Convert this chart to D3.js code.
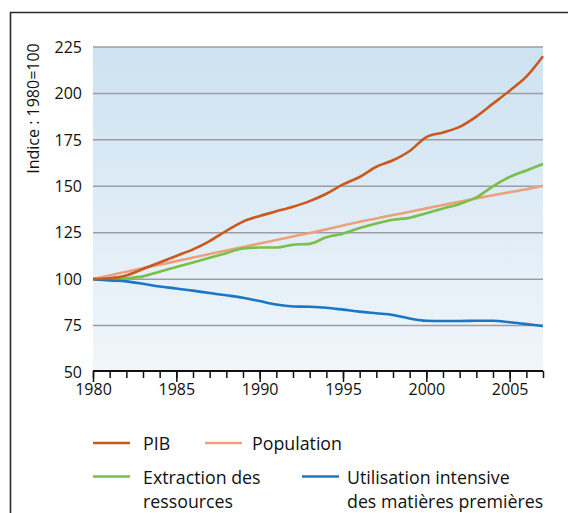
<!DOCTYPE html>
<html>
<head>
<meta charset="utf-8">
<script src="https://cdn.jsdelivr.net/npm/d3@7"></script>
<style>
  html, body { margin: 0; padding: 0; background: #fff; }
  svg { display: block; font-family: "Open Sans", "Noto Sans", sans-serif; }
</style>
</head>
<body>
<svg id="chart" width="568" height="513"></svg>
<script>
const years = d3.range(1980, 2008);
const pib = [100, 100.5, 102, 105.5, 109, 112.5, 116, 120.5, 126, 131, 134, 136.5, 139, 142, 146, 151, 155, 160.5, 164, 169, 176.5, 179, 182, 187.5, 194.5, 201.5, 209, 220];
const population = [100, 102, 104, 106, 107.8, 109.7, 111.6, 113.5, 115.4, 117.3, 119.2, 121.1, 123, 124.9, 126.8, 128.9, 130.9, 132.7, 134.5, 136.3, 138.1, 139.9, 141.7, 143.5, 145.2, 146.8, 148.4, 150.3];
const extraction = [100, 100, 100.5, 101.5, 104, 106.5, 109, 111.5, 114, 116.5, 117, 117, 118.5, 119, 122.5, 124.5, 127.5, 130, 132, 133, 135.5, 138, 140.5, 144, 150, 155, 158.5, 162];
const utilisation = [100, 99.3, 98.8, 97.5, 96, 95, 93.8, 92.5, 91.3, 90, 88.2, 86.3, 85.3, 85.1, 84.6, 83.6, 82.5, 81.6, 80.7, 78.8, 77.6, 77.5, 77.5, 77.6, 77.6, 76.8, 75.8, 74.8];
const yTicks = [50, 75, 100, 125, 150, 175, 200, 225];
const xTicks = [1980, 1985, 1990, 1995, 2000, 2005];
const yLabel = "Indice : 1980=100";

const seriesNames = ["PIB", "Population", "Extraction des ressources", "Utilisation intensive des matières premières"];
const seriesColors = ["#c9591c", "#eba27c", "#79bf48", "#1b77c4"];
const seriesValues = [pib, population, extraction, utilisation];

const svg = d3.select("#chart");
const mLeft = 93, mRight = 543, mTop = 47, mBottom = 372;

const x = d3.scaleLinear().domain([1980, 2007]).range([mLeft, mRight]);
const y = d3.scaleLinear().domain([50, 225]).range([mBottom, mTop]);

// outer frame (left and top edges visible)
svg.append("path")
  .attr("d", `M10.5,${513} L10.5,12.5 L${568},12.5`)
  .attr("fill", "none").attr("stroke", "#2a2a2a").attr("stroke-width", 1.6);

// background gradient
const defs = svg.append("defs");
const grad = defs.append("linearGradient").attr("id", "bg").attr("x1", 0).attr("y1", 0).attr("x2", 0).attr("y2", 1);
grad.append("stop").attr("offset", "0%").attr("stop-color", "#cde2f1");
grad.append("stop").attr("offset", "100%").attr("stop-color", "#f0f6fb");
svg.append("rect").attr("x", mLeft).attr("y", mTop).attr("width", mRight - mLeft).attr("height", mBottom - mTop).attr("fill", "url(#bg)");

// grid lines
svg.append("g").selectAll("line").data(yTicks.filter(d => d > 50)).join("line")
  .attr("x1", mLeft).attr("x2", mRight)
  .attr("y1", d => y(d)).attr("y2", d => y(d))
  .attr("stroke", "#9a9ea3").attr("stroke-width", 1.5);

// y tick labels
svg.append("g").selectAll("text").data(yTicks).join("text")
  .attr("x", 82).attr("y", d => y(d)).attr("dy", "0.36em")
  .attr("text-anchor", "end").attr("font-size", 16).attr("fill", "#111")
  .text(d => d);

// y label
svg.append("text")
  .attr("transform", `translate(38.5,${(45 + 172) / 2}) rotate(-90)`)
  .attr("text-anchor", "middle").attr("font-size", 16).attr("fill", "#111")
  .text(yLabel);

// x axis
const xAxisMinor = d3.axisBottom(x).tickValues(years).tickSize(7).tickFormat("");
const xAxisMajor = d3.axisBottom(x).tickValues(xTicks).tickSize(11).tickFormat(d3.format("d"));
const gMinor = svg.append("g").attr("transform", `translate(0,${mBottom - 1})`).call(xAxisMinor);
gMinor.select(".domain").attr("stroke", "#111").attr("stroke-width", 1.8).attr("d", `M${mLeft},0H${mRight}`);
gMinor.selectAll(".tick line").attr("stroke", "#111").attr("stroke-width", 1.5);
const gMajor = svg.append("g").attr("transform", `translate(0,${mBottom - 1})`).call(xAxisMajor);
gMajor.select(".domain").remove();
gMajor.selectAll(".tick line").attr("stroke", "#111").attr("stroke-width", 1.5);
gMajor.selectAll(".tick text").attr("font-size", 16).attr("fill", "#111")
  .attr("font-family", "'Open Sans', sans-serif").attr("y", 13).attr("dy", "0.71em");

// lines
const line = d3.line().x((d, i) => x(years[i])).y(d => y(d)).curve(d3.curveMonotoneX);
const order = [1, 2, 3, 0];
svg.append("g").selectAll("path").data(order).join("path")
  .attr("d", i => line(seriesValues[i]))
  .attr("fill", "none").attr("stroke", i => seriesColors[i])
  .attr("stroke-width", 2.6).attr("stroke-linejoin", "round");

// legend
const legend = [
  { i: 0, x: 93, y: 444, tx: 143, lines: ["PIB"] },
  { i: 1, x: 205, y: 444, tx: 252, lines: ["Population"] },
  { i: 2, x: 93, y: 477.5, tx: 143, lines: ["Extraction des", "ressources"] },
  { i: 3, x: 302, y: 477.5, tx: 347, lines: ["Utilisation intensive", "des matières premières"] }
];
const lg = svg.append("g").selectAll("g").data(legend).join("g");
lg.append("line")
  .attr("x1", d => d.x).attr("x2", d => d.x + 37)
  .attr("y1", d => d.y - 1).attr("y2", d => d.y - 1)
  .attr("stroke", d => seriesColors[d.i]).attr("stroke-width", 2.6);
lg.each(function(d) {
  const t = d3.select(this).append("text")
    .attr("x", d.tx).attr("y", d.y)
    .attr("font-size", 17.8).attr("fill", "#111");
  d.lines.forEach((s, k) => {
    t.append("tspan").attr("x", d.tx).attr("dy", k === 0 ? "0.34em" : 24.3).text(s);
  });
});
</script>
</body>
</html>
